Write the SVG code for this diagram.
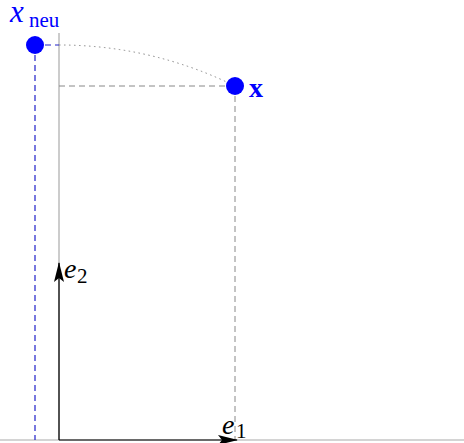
<svg xmlns="http://www.w3.org/2000/svg" width="464" height="443" viewBox="0 0 464 443">
<style>
.axis{stroke:#aaaaaa;stroke-width:1.2;fill:none}
.gdash{stroke:#888888;stroke-width:1;stroke-dasharray:6,4;fill:none}
.bdash{stroke:#2020c8;stroke-width:1.2;stroke-dasharray:6,4;fill:none}
.dot{stroke:#888888;stroke-width:1;stroke-dasharray:1.5,3.5;fill:none}
.vec{stroke:#000;stroke-width:1.2;fill:none}
.pt{fill:#0000ff}
text{font-family:"Liberation Serif","DejaVu Serif","Times New Roman",serif}
.it{font-style:italic}
.sub{font-style:normal;font-size:21px}
.blk{fill:#000}
.blu{fill:#0000ff}
</style>
<defs>
<marker id="ah" markerWidth="20" markerHeight="10" refX="19" refY="5" orient="auto" markerUnits="userSpaceOnUse">
<path d="M0,0 L20,5 L0,10 L4,5 Z" fill="#000"/>
</marker>
</defs>
<g id="connectors">
<line class="axis" x1="0" y1="440" x2="464" y2="440"/>
<line class="axis" x1="59" y1="33" x2="59" y2="440"/>
<line class="gdash" x1="59" y1="86" x2="235" y2="86"/>
<line class="gdash" x1="235" y1="86" x2="235" y2="440"/>
<line class="bdash" x1="35" y1="45" x2="35" y2="440"/>
<line class="bdash" x1="35" y1="45" x2="59" y2="45"/>
<path class="dot" d="M59,45 A395.3,395.3 0 0 1 235,86"/>
<line class="vec" x1="59" y1="440" x2="237" y2="440" marker-end="url(#ah)"/>
<line class="vec" x1="59" y1="440" x2="59" y2="263" marker-end="url(#ah)"/>
</g>
<g id="x">
<circle class="pt" cx="235" cy="86" r="9"/>
<text class="blu" x="249" y="97" font-size="28" font-weight="bold">x</text>
</g>
<g id="xneu">
<circle class="pt" cx="35" cy="45" r="9"/>
<text class="blu it" x="10" y="22" font-size="31">x</text>
<text class="blu sub" x="29" y="27">neu</text>
</g>
<g id="e1">
<text class="blk it" x="222" y="434" font-size="28">e</text>
<text class="blk sub" x="236" y="438">1</text>
</g>
<g id="e2">
<text class="blk it" x="64" y="278" font-size="28">e</text>
<text class="blk sub" x="77" y="283">2</text>
</g>
</svg>
